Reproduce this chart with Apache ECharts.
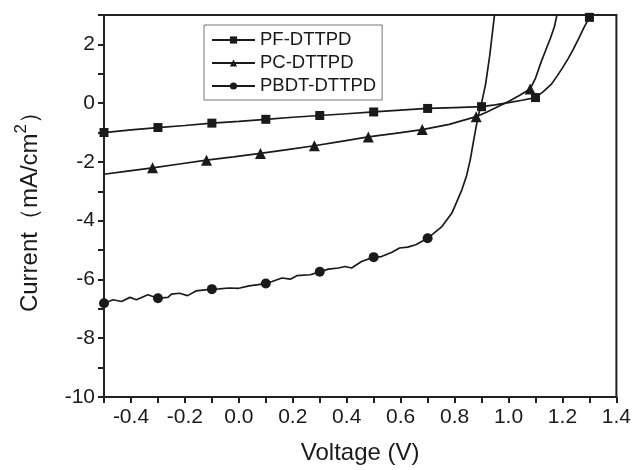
<!DOCTYPE html>
<html>
<head>
<meta charset="utf-8">
<script src="https://cdn.jsdelivr.net/npm/echarts@6/dist/echarts.min.js"></script>
<style>
html,body{margin:0;padding:0;background:#fff;}
#chart{width:634px;height:470px;}
</style>
</head>
<body>
<div id="chart"></div>
<script>
// ---- data ----
const seriesNames = ['PF-DTTPD', 'PC-DTTPD', 'PBDT-DTTPD'];

const pfV = [-0.5,-0.4,-0.3,-0.2,-0.1,0.0,0.1,0.2,0.3,0.4,0.5,0.6,0.7,0.8,0.9,0.95,1.0,1.05,1.1,1.13,1.16,1.18,1.2,1.22,1.24,1.26,1.28,1.3];
const pfJ = [-1.0,-0.91,-0.83,-0.76,-0.68,-0.62,-0.55,-0.48,-0.42,-0.36,-0.3,-0.24,-0.18,-0.15,-0.12,-0.06,0.02,0.1,0.19,0.4,0.66,0.92,1.2,1.5,1.83,2.2,2.58,2.92];
const pfMarkV = [-0.5,-0.3,-0.1,0.1,0.3,0.5,0.7,0.9,1.1,1.3];

const pcV = [-0.5,-0.42,-0.32,-0.22,-0.12,-0.02,0.08,0.18,0.28,0.38,0.48,0.58,0.68,0.78,0.88,0.92,0.96,1.0,1.04,1.08,1.1,1.12,1.14,1.155,1.17,1.18];
const pcJ = [-2.42,-2.32,-2.2,-2.07,-1.94,-1.83,-1.71,-1.58,-1.45,-1.3,-1.15,-1.03,-0.9,-0.72,-0.46,-0.3,-0.12,0.06,0.26,0.48,0.85,1.38,1.85,2.2,2.6,3.02];
const pcMarkV = [-0.32,-0.12,0.08,0.28,0.48,0.68,0.88,1.08];

const pbV = [-0.5,-0.466,-0.435,-0.404,-0.38,-0.337,-0.3,-0.263,-0.25,-0.22,-0.19,-0.159,-0.1,-0.073,-0.036,0.0,0.038,0.1,0.123,0.16,0.191,0.215,0.265,0.3,0.332,0.369,0.394,0.418,0.455,0.5,0.529,0.566,0.596,0.626,0.656,0.7,0.72,0.753,0.79,0.827,0.845,0.858,0.872,0.886,0.9,0.915,0.93,0.948];
const pbJ = [-6.81,-6.69,-6.75,-6.61,-6.69,-6.52,-6.64,-6.61,-6.5,-6.47,-6.55,-6.39,-6.33,-6.32,-6.29,-6.3,-6.22,-6.14,-6.07,-5.95,-5.99,-5.87,-5.84,-5.74,-5.65,-5.61,-5.56,-5.61,-5.39,-5.24,-5.22,-5.08,-4.93,-4.9,-4.82,-4.6,-4.45,-4.2,-3.74,-2.95,-2.45,-1.93,-1.2,-0.5,0.0,0.65,1.6,3.0];
const pbMarkV = [-0.5,-0.3,-0.1,0.1,0.3,0.5,0.7];

const xMin = -0.5, xMax = 1.4, xStep = 0.1;
const yMin = -10, yMax = 3, yStep = 1;

// ---- build ----
const ink = '#1a1a1a';
function build(vs, js, marks, sym) {
  return vs.map((v, i) => {
    const isMark = marks.some(m => Math.abs(m - v) < 1e-6);
    return { value: [v, js[i]], symbol: isMark ? sym : 'none' };
  });
}
function mkSeries(name, vs, js, marks, sym, size) {
  return {
    name: name, type: 'line', symbol: sym, symbolSize: size,
    showAllSymbol: true, smooth: false, clip: true,
    lineStyle: { color: ink, width: 1.7 },
    itemStyle: { color: ink },
    emphasis: { disabled: true },
    data: build(vs, js, marks, sym)
  };
}

const chart = echarts.init(document.getElementById('chart'), null, { renderer: 'canvas' });
const font = 'Liberation Sans, Arial, sans-serif';
chart.setOption({
  animation: false,
  backgroundColor: '#fff',
  textStyle: { fontFamily: font },
  grid: { left: 104, right: 14, top: 15, bottom: 72, show: true, borderColor: '#222', borderWidth: 2, backgroundColor: 'transparent' },
  legend: {
    left: 204, top: 25,
    orient: 'vertical',
    itemWidth: 43, itemHeight: 9, itemGap: 3,
    padding: [5, 6, 4, 7],
    borderColor: '#777', borderWidth: 1,
    textStyle: { color: '#1a1a1a', fontSize: 18.5, lineHeight: 20, fontFamily: font },
    data: seriesNames
  },
  xAxis: {
    type: 'value', min: xMin, max: xMax, interval: xStep,
    name: 'Voltage (V)', nameLocation: 'middle', nameGap: 44,
    nameTextStyle: { fontSize: 24, color: '#1a1a1a', fontFamily: font },
    axisLine: { onZero: false, lineStyle: { color: '#222', width: 2 } },
    axisTick: { length: 6, lineStyle: { color: '#222', width: 2 } },
    splitLine: { show: false },
    axisLabel: {
      fontSize: 21, color: '#1a1a1a', margin: 10, fontFamily: font,
      formatter: v => (Math.round(v * 10) % 2 === 0 && Math.round(v*10) !== -5) ? (Math.round(v * 10) / 10).toFixed(1) : ''
    }
  },
  yAxis: {
    type: 'value', min: yMin, max: yMax, interval: yStep,
    name: 'Current（mA/cm{sup|2}）', nameLocation: 'middle', nameGap: 57,
    nameTextStyle: { fontSize: 24, color: '#1a1a1a', fontFamily: font,
      rich: { sup: { fontSize: 17, verticalAlign: 'top', lineHeight: 34, padding: [0, 0, 10, 0], fontFamily: font, color: '#1a1a1a' } } },
    axisLine: { onZero: false, lineStyle: { color: '#222', width: 2 } },
    axisTick: { length: 6, lineStyle: { color: '#222', width: 2 } },
    splitLine: { show: false },
    axisLabel: {
      fontSize: 21, color: '#1a1a1a', margin: 9, fontFamily: font,
      formatter: v => (Math.round(v) % 2 === 0) ? String(Math.round(v)) : ''
    }
  },
  series: [
    mkSeries(seriesNames[0], pfV, pfJ, pfMarkV, 'rect', 9),
    mkSeries(seriesNames[1], pcV, pcJ, pcMarkV, 'triangle', 11),
    mkSeries(seriesNames[2], pbV, pbJ, pbMarkV, 'circle', 10)
  ]
});
</script>
</body>
</html>
